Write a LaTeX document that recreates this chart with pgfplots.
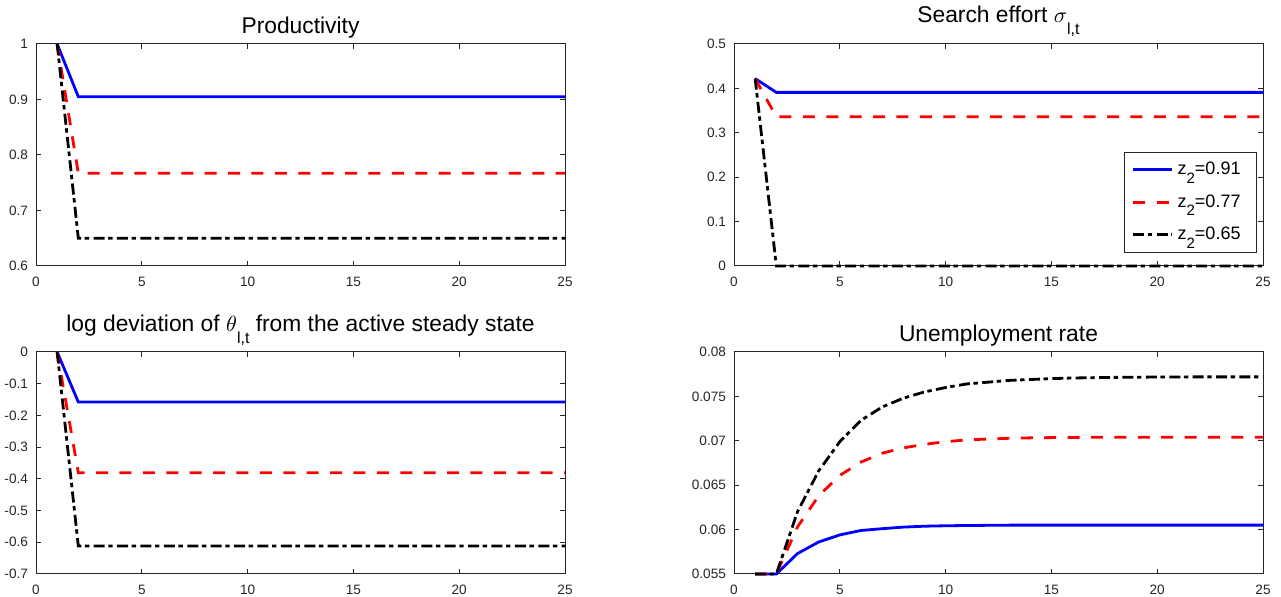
\documentclass[border=0pt]{standalone}
\usepackage{fontspec}
\setmainfont{Liberation Sans}
\usepackage{pgfplots}
\usepackage{pgfplotstable}
\pgfplotsset{compat=1.18}

\definecolor{axgray}{rgb}{0.15,0.15,0.15}

% lowered subscripts, as set in the titles and the legend
\newcommand{\tsub}[2]{\raisebox{-#1}{\fontsize{8}{9}\selectfont #2}}
\newcommand{\lsub}[1]{\raisebox{-4.3pt}{\fontsize{7.5}{8}\selectfont #1}}
\newcommand{\zentry}[1]{\kern1.5pt z\lsub{2}=#1\kern4pt}

% columns: t, z2=0.91 (a), z2=0.77 (b), z2=0.65 (c)
\pgfplotstableread{
t a b c
1 1.000 1.000 1.000
2 0.905 0.767 0.650
3 0.905 0.767 0.650
4 0.905 0.767 0.650
5 0.905 0.767 0.650
6 0.905 0.767 0.650
7 0.905 0.767 0.650
8 0.905 0.767 0.650
9 0.905 0.767 0.650
10 0.905 0.767 0.650
11 0.905 0.767 0.650
12 0.905 0.767 0.650
13 0.905 0.767 0.650
14 0.905 0.767 0.650
15 0.905 0.767 0.650
16 0.905 0.767 0.650
17 0.905 0.767 0.650
18 0.905 0.767 0.650
19 0.905 0.767 0.650
20 0.905 0.767 0.650
21 0.905 0.767 0.650
22 0.905 0.767 0.650
23 0.905 0.767 0.650
24 0.905 0.767 0.650
25 0.905 0.767 0.650
}\prodtab

\pgfplotstableread{
t a b c
1 0.422 0.422 0.422
2 0.391 0.336 0.000
3 0.391 0.336 0.000
4 0.391 0.336 0.000
5 0.391 0.336 0.000
6 0.391 0.336 0.000
7 0.391 0.336 0.000
8 0.391 0.336 0.000
9 0.391 0.336 0.000
10 0.391 0.336 0.000
11 0.391 0.336 0.000
12 0.391 0.336 0.000
13 0.391 0.336 0.000
14 0.391 0.336 0.000
15 0.391 0.336 0.000
16 0.391 0.336 0.000
17 0.391 0.336 0.000
18 0.391 0.336 0.000
19 0.391 0.336 0.000
20 0.391 0.336 0.000
21 0.391 0.336 0.000
22 0.391 0.336 0.000
23 0.391 0.336 0.000
24 0.391 0.336 0.000
25 0.391 0.336 0.000
}\efforttab

\pgfplotstableread{
t a b c
1 0.000 0.000 0.000
2 -0.158 -0.381 -0.612
3 -0.158 -0.381 -0.612
4 -0.158 -0.381 -0.612
5 -0.158 -0.381 -0.612
6 -0.158 -0.381 -0.612
7 -0.158 -0.381 -0.612
8 -0.158 -0.381 -0.612
9 -0.158 -0.381 -0.612
10 -0.158 -0.381 -0.612
11 -0.158 -0.381 -0.612
12 -0.158 -0.381 -0.612
13 -0.158 -0.381 -0.612
14 -0.158 -0.381 -0.612
15 -0.158 -0.381 -0.612
16 -0.158 -0.381 -0.612
17 -0.158 -0.381 -0.612
18 -0.158 -0.381 -0.612
19 -0.158 -0.381 -0.612
20 -0.158 -0.381 -0.612
21 -0.158 -0.381 -0.612
22 -0.158 -0.381 -0.612
23 -0.158 -0.381 -0.612
24 -0.158 -0.381 -0.612
25 -0.158 -0.381 -0.612
}\thetatab

\pgfplotstableread{
t a b c
1 0.05500 0.05500 0.05500
2 0.05500 0.05500 0.05500
3 0.05730 0.06030 0.06200
4 0.05860 0.06380 0.06660
5 0.05940 0.06610 0.06990
6 0.05990 0.06760 0.07230
7 0.06010 0.06860 0.07380
8 0.06028 0.06920 0.07480
9 0.06038 0.06960 0.07550
10 0.06043 0.06990 0.07600
11 0.06046 0.07010 0.07640
12 0.06048 0.07020 0.07660
13 0.06050 0.07028 0.07680
14 0.06050 0.07033 0.07690
15 0.06050 0.07036 0.07700
16 0.06050 0.07038 0.07707
17 0.06050 0.07040 0.07711
18 0.06050 0.07040 0.07714
19 0.06050 0.07040 0.07716
20 0.06050 0.07040 0.07718
21 0.06050 0.07040 0.07719
22 0.06050 0.07040 0.07720
23 0.06050 0.07040 0.07720
24 0.06050 0.07040 0.07720
25 0.06050 0.07040 0.07720
}\unemptab

\pgfplotsset{
  panel/.style={
    scale only axis,
    width=264.5pt, height=111pt,
    anchor=south west,
    xmin=0, xmax=25, xtick={0,5,10,15,20,25},
    axis line style={axgray, line width=0.5pt},
    tick style={axgray, line width=0.5pt},
    major tick length=2.5pt,
    tick align=inside,
    ticklabel style={font=\fontsize{6.8}{8}\selectfont, text=axgray},
    xticklabel style={yshift=-2pt},
    yticklabel style={xshift=-0.5pt},
    scaled y ticks=false,
    /pgf/number format/assume math mode=true,
    /pgf/number format/fixed,
    /pgf/number format/precision=3,
    every axis title/.style={at={(0.5,1)}, anchor=base, yshift=5pt,
      font=\fontsize{11.4}{13}\selectfont},
    clip=false,
  },
  zA/.style={blue, line width=1.4pt},
  zB/.style={red, line width=1.4pt, dash pattern=on 6pt off 5.7pt},
  zC/.style={black, line width=1.4pt, dash pattern=on 5.5pt off 1.8pt on 2.2pt off 2.2pt},
}

\begin{document}
\begin{tikzpicture}

% Productivity
\begin{axis}[panel, at={(18pt,165.5pt)},
  ymin=0.6, ymax=1, ytick={0.6,0.7,0.8,0.9,1},
  title={Productivity}]
  \addplot[zA] table[x=t, y=a] {\prodtab};
  \addplot[zB] table[x=t, y=b] {\prodtab};
  \addplot[zC] table[x=t, y=c] {\prodtab};
\end{axis}

% Search effort
\begin{axis}[panel, at={(367pt,165.5pt)},
  ymin=0, ymax=0.5, ytick={0,0.1,0.2,0.3,0.4,0.5},
  title={Search effort $\sigma$\tsub{6pt}{l,t}},
  every axis title/.append style={yshift=5.5pt},
  legend cell align=left,
  legend image code/.code={\draw[#1] (0pt,0pt) -- (19.5pt,0pt);},
  legend style={at={(0.9887,0.0586)}, anchor=south east,
    draw=axgray, line width=0.5pt, fill=white,
    font=\fontsize{9}{10}\selectfont,
    inner xsep=3.5pt, inner ysep=2.8pt, row sep=4.3pt,
    nodes={inner sep=0.5pt, text height=8pt, text depth=3pt}}]
  \addplot[zA] table[x=t, y=a] {\efforttab};
  \addlegendentry{\zentry{0.91}}
  \addplot[zB] table[x=t, y=b] {\efforttab};
  \addlegendentry{\zentry{0.77}}
  \addplot[zC] table[x=t, y=c] {\efforttab};
  \addlegendentry{\zentry{0.65}}
\end{axis}

% Market tightness
\begin{axis}[panel, at={(18pt,11.5pt)},
  ymin=-0.7, ymax=0, ytick={-0.7,-0.6,-0.5,-0.4,-0.3,-0.2,-0.1,0},
  title={log deviation of $\theta$\tsub{6pt}{l,t} from the active steady state},
  every axis title/.append style={yshift=5pt}]
  \addplot[zA] table[x=t, y=a] {\thetatab};
  \addplot[zB] table[x=t, y=b] {\thetatab};
  \addplot[zC] table[x=t, y=c] {\thetatab};
\end{axis}

% Unemployment
\begin{axis}[panel, at={(367pt,11.5pt)},
  ymin=0.055, ymax=0.08, ytick={0.055,0.06,0.065,0.07,0.075,0.08},
  title={Unemployment rate}]
  \addplot[zA] table[x=t, y=a] {\unemptab};
  \addplot[zB] table[x=t, y=b] {\unemptab};
  \addplot[zC] table[x=t, y=c] {\unemptab};
\end{axis}

\pgfresetboundingbox
\path[use as bounding box] (0,0) rectangle (640.5pt,298.5pt);
\end{tikzpicture}
\end{document}
